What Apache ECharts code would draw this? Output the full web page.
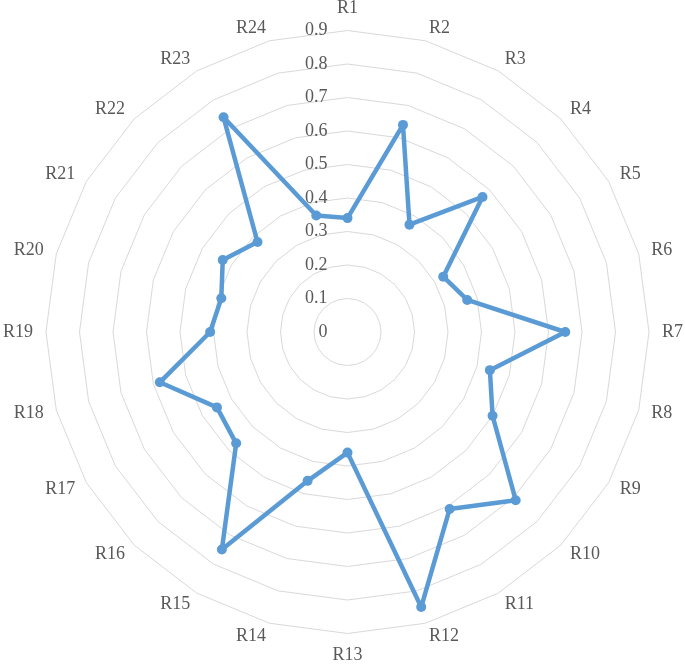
<!DOCTYPE html>
<html>
<head>
<meta charset="utf-8">
<script src="https://cdn.jsdelivr.net/npm/echarts@6/dist/echarts.min.js"></script>
<style>
html,body{margin:0;padding:0;background:#fff;}
#chart{width:685px;height:664px;}
</style>
</head>
<body>
<div id="chart"></div>
<script>
const categories = ['R1','R2','R3','R4','R5','R6','R7','R8','R9','R10','R11','R12','R13','R14','R15','R16','R17','R18','R19','R20','R21','R22','R23','R24'];
const values = [0.34,0.64,0.37,0.57,0.33,0.37,0.65,0.44,0.50,0.71,0.61,0.85,0.36,0.46,0.75,0.47,0.45,0.58,0.41,0.39,0.43,0.38,0.74,0.36];
const axisMax = 0.9;
const splitCount = 9;

// ECharts radar runs counter-clockwise; reorder so categories run clockwise from the top.
const order = categories.map((_, i) => (categories.length - i) % categories.length);
const font = '"Liberation Serif", "Times New Roman", serif';

const chart = echarts.init(document.getElementById('chart'), null, {renderer: 'canvas'});
const indicators = order.map((idx, i) => ({
  name: categories[idx],
  min: 0,
  max: axisMax,
  axisLabel: {show: i === 0}
}));
chart.setOption({
  backgroundColor: '#ffffff',
  animation: false,
  radar: {
    center: [347.5, 332],
    radius: 301.5,
    startAngle: 90,
    shape: 'polygon',
    splitNumber: splitCount,
    indicator: indicators,
    nameGap: 13,
    axisName: {color: '#595959', fontSize: 18, fontFamily: font},
    axisLine: {show: false},
    axisTick: {show: false},
    splitArea: {show: false},
    splitLine: {lineStyle: {color: '#d9d9d9', width: 1}},
    axisLabel: {
      show: true,
      margin: 20,
      color: '#595959',
      fontSize: 18,
      fontFamily: font,
      formatter: function (v) { return String(Number(Number(v).toFixed(1))); }
    }
  },
  series: [{
    type: 'radar',
    symbol: 'circle',
    symbolSize: 10,
    lineStyle: {color: '#5b9bd5', width: 4.5},
    itemStyle: {color: '#5b9bd5'},
    data: [{value: order.map(idx => values[idx]), name: 'Series'}]
  }]
});
</script>
</body>
</html>
